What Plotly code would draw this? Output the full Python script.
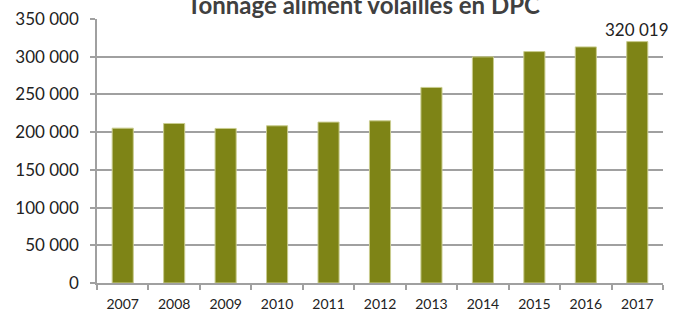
import plotly.graph_objects as go

years = ["2007", "2008", "2009", "2010", "2011", "2012", "2013", "2014", "2015", "2016", "2017"]
tonnage = [205300, 211500, 204900, 208400, 213300, 215000, 259300, 299800, 306800, 313000, 320019]
label_year = "2017"
label_value = 320019
label_text = "320 019"
title_text = "Tonnage aliment volailles en DPC"

fig = go.Figure()
fig.add_trace(go.Bar(
    x=years, y=tonnage, width=0.41,
    marker=dict(color="#7E8416", line=dict(color="#C9CC8E", width=1)),
))

fig.update_layout(
    width=686, height=311,
    margin=dict(l=97, r=23, t=19, b=28),
    paper_bgcolor="white", plot_bgcolor="white",
    separators=", ",
    showlegend=False,
    font=dict(family="Lato", color="#222222"),
)
fig.update_xaxes(
    type="category", tickson="boundaries", automargin=False,
    range=[-0.5, len(years) - 0.5], tickangle=0,
    ticks="outside", ticklen=5, tickcolor="#A0A0A0", tickwidth=1.5,
    ticklabelstandoff=7,
    showline=True, linecolor="#A0A0A0", linewidth=1.5,
    showgrid=False,
    tickfont=dict(family="Lato", size=14, color="#222222"),
)
fig.update_yaxes(
    range=[0, 350000], dtick=50000, tickformat=",d", automargin=False,
    ticks="outside", ticklen=5, tickcolor="#A0A0A0", tickwidth=1.5,
    ticklabelstandoff=8,
    showline=True, linecolor="#A0A0A0", linewidth=1.5,
    showgrid=True, gridcolor="#A0A0A0", gridwidth=1.5,
    zeroline=False,
    tickfont=dict(family="Lato", size=17, color="#222222"),
)
fig.add_annotation(
    text=label_text, x=years.index(label_year), y=label_value, xref="x", yref="y",
    yanchor="bottom", yshift=0, showarrow=False,
    font=dict(family="Lato", size=17, color="#222222"),
)
fig.add_annotation(
    text="<b>" + title_text + "</b>",
    xref="paper", yref="paper", x=0.47, y=1, yanchor="bottom",
    yshift=-2, showarrow=False,
    font=dict(family="Lato", size=24, color="#404040"),
)
fig.write_html("out.html", config={"displayModeBar": False},
               post_script="document.body.style.margin='0';")
